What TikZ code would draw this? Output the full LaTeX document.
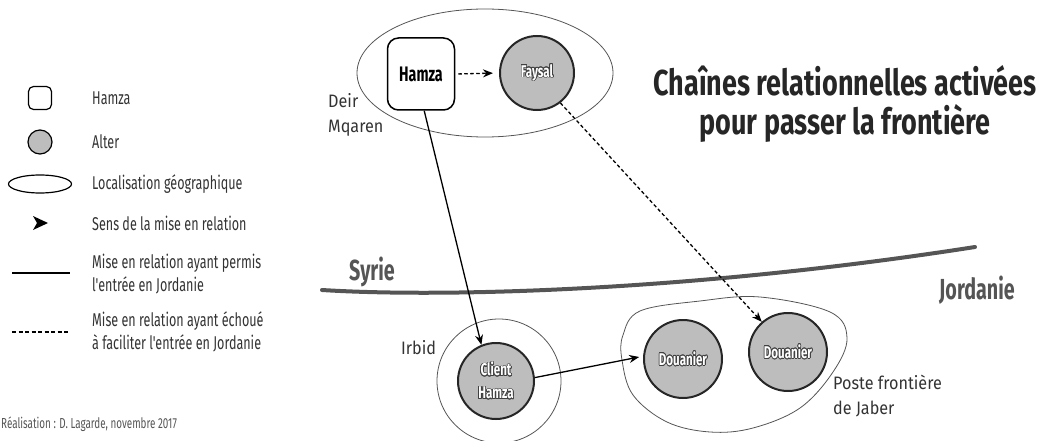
\documentclass[tikz,border=0pt]{standalone}
\usepackage{fontspec}
\usepackage{contour}
\contourlength{0.7pt}
\setmainfont{Fira Sans}
\newfontfamily\cond{Fira Sans}[FakeStretch=0.68]
\newfontfamily\titf{Fira Sans}[FakeStretch=0.75]
\newfontfamily\labf{Fira Sans}[FakeStretch=0.9]
\usetikzlibrary{arrows.meta,shapes.geometric}
\definecolor{altergray}{HTML}{BDBDBD}
\definecolor{linegray}{HTML}{555555}
\definecolor{txtgray}{HTML}{333333}
\newcommand{\wtxt}[1]{\contour{black!75}{#1}}
\tikzset{
  hamzabox/.style={draw, line width=1.5pt, rounded corners=11pt, minimum width=67pt, minimum height=72pt, inner sep=0pt, font=\cond\bfseries\fontsize{21}{23}\selectfont},
  alter/.style={circle, draw=black!85, line width=2pt, fill=altergray, inner sep=0pt, text=white, align=center, font=\cond\bfseries\fontsize{17}{23}\selectfont},
  place/.style={draw=linegray, line width=0.8pt},
  solidarrow/.style={line width=1.3pt, -{Stealth[length=10pt,width=8pt]}},
  dasharrow/.style={line width=1.3pt, dash pattern=on 3.5pt off 2.5pt, -{Stealth[length=10pt,width=8pt]}},
  legtext/.style={anchor=west, inner sep=0pt, align=left, text=txtgray, font=\cond\fontsize{18.5}{23}\selectfont},
  labtext/.style={anchor=west, inner sep=0pt, align=left, text=txtgray, font=\labf\fontsize{18}{25}\selectfont},
  country/.style={inner sep=0pt, text=linegray, font=\cond\bfseries\fontsize{29}{32}\selectfont},
}
\begin{document}
\begin{tikzpicture}[x=1pt,y=-1pt]
\useasboundingbox (0,0) rectangle (1047,441);
% places
\node[place, ellipse, minimum width=256pt, minimum height=128pt] (deir) at (485,73) {};
\node[place, circle, minimum size=124pt] (irbid) at (499,381) {};
\draw[place] plot[smooth cycle, tension=0.6] coordinates {(640,311) (700,301) (760,297) (830,312) (847,338) (833,372) (800,408) (753,428) (710,432) (667,422) (633,395) (622,360) (623,335)};
% border
\draw[linegray, line width=4pt, line cap=round] (322,290) .. controls (450,298) and (700,290) .. (975,247);
\node[country] (syrie) at (372,272) {Syrie};
\node[country] (jordanie) at (977,290) {Jordanie};
% actors
\node[hamzabox] (hamza) at (421,74) {Hamza};
\node[alter, minimum size=74pt] (faysal) at (537,73) {\wtxt{Faysal}};
\node[alter, minimum size=76pt] (client) at (496,381) {\wtxt{Client}\\\wtxt{Hamza}};
\node[alter, minimum size=78pt] (d1) at (683,359) {\wtxt{Douanier}};
\node[alter, minimum size=78pt] (d2) at (788,352) {\wtxt{Douanier}};
% connectors
\draw[dasharrow, shorten <=3pt, shorten >=6pt] (hamza.east) -- (faysal.west);
\draw[solidarrow] (hamza.-85) -- (client.112);
\draw[dasharrow] (faysal.-52) -- (d2.131);
\draw[solidarrow, shorten >=4pt] (client.5) -- (d1.176);
% place labels
\node[labtext] (deirlab) at (328,115) {Deir\\Mqaren};
\node[labtext] (irbidlab) at (401,348) {Irbid};
\node[labtext] (jaberlab) at (833,396) {Poste frontière\\de Jaber};
% title
\node[inner sep=0pt, align=center, text=black!85, font=\titf\bfseries\fontsize{36}{39}\selectfont] (title) at (845,104) {Chaînes relationnelles activées\\pour passer la frontière};
% legend
\node[draw, line width=1.2pt, rounded corners=5pt, minimum size=23pt, inner sep=0pt] (lghamza) at (40,98) {};
\node[legtext] (lthamza) at (92,98) {Hamza};
\node[circle, draw, line width=1.2pt, fill=altergray, minimum size=24pt, inner sep=0pt] (lgalter) at (40,142) {};
\node[legtext] (ltalter) at (92,142) {Alter};
\node[ellipse, draw, line width=1.2pt, minimum width=63pt, minimum height=18pt, inner sep=0pt] (lgloc) at (40,184) {};
\node[legtext] (ltloc) at (92,184) {Localisation géographique};
\fill (33,216) -- (48,223) -- (33,230) -- (37,223) -- cycle;
\node[legtext] (ltsens) at (92,223) {Sens de la mise en relation};
\draw[line width=1.2pt] (12,273) -- (70,273);
\node[legtext] (ltok) at (92,274) {Mise en relation ayant permis\\l'entrée en Jordanie};
\draw[line width=1.4pt, dash pattern=on 4pt off 2.5pt] (12,332) -- (68,332);
\node[legtext] (ltko) at (92,332) {Mise en relation ayant échoué\\à faciliter l'entrée en Jordanie};
% credits
\node[anchor=west, inner sep=0pt, text=linegray, font=\cond\fontsize{14.5}{16}\selectfont] (credit) at (1,424) {Réalisation : D. Lagarde, novembre 2017};
\end{tikzpicture}
\end{document}
